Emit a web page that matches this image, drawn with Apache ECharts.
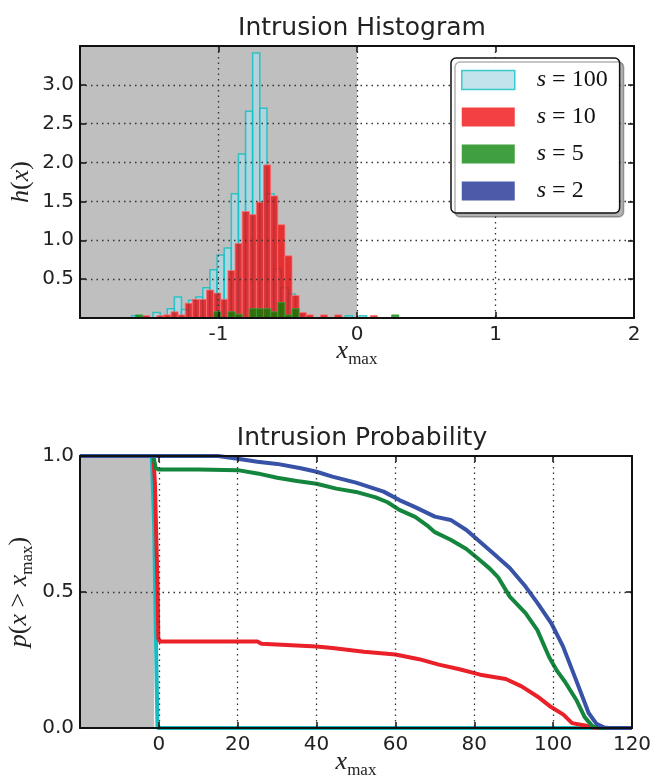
<!DOCTYPE html>
<html><head><meta charset="utf-8">
<script src="https://cdn.jsdelivr.net/npm/echarts@6/dist/echarts.min.js"></script>
<style>html,body{margin:0;padding:0;background:#fff}#c{width:657px;height:778px}</style>
</head><body><div id="c"></div>
<script>
// ---------------- data ----------------
const histBinWidth = 0.0514;
const s100BinStart = -1.627;
const s100Heights = [0.03,0,0,0.07,0,0.12,0.27,0.11,0.23,0.27,0.39,0.62,0.81,0.90,1.60,2.11,2.66,3.41,2.70,1.60,0.63,0.39,0.31,0.04,0,0,0,0,0,0,0.03,0,0.03];
const s10BinStart = -1.600;
const s10Heights = [0,0.03,0,0.03,0.04,0.08,0.04,0.19,0.24,0.24,0.36,0.32,0.24,0.61,0.96,1.37,1.33,1.49,1.97,1.57,1.20,0.80,0.29,0.07,0.04,0,0.04,0,0.04,0,0,0,0,0.03];
const s5BinStart = -1.600;
const s5Heights = [0.04,0,0,0,0,0,0,0,0,0,0,0.08,0,0.08,0.05,0,0.12,0.12,0.12,0.08,0.20,0.04,0.12,0,0,0,0,0,0,0,0,0,0,0,0,0,0.04];
const s2BinStart = -1.600;
const s2Heights = [];

const probS100 = [[-20,1],[-1.8,1],[-1.2,0.75],[-0.7,0.3],[-0.35,0],[120,0]];
const probS10 = [[-20,1],[-1.4,1],[-1.0,0.9],[-0.3,0.5],[-0.15,0.33],[0.3,0.318],[25,0.318],[26,0.31],[40,0.30],[44,0.294],[52,0.28],[60,0.27],[66,0.253],[71,0.233],[76,0.217],[81.5,0.196],[88,0.18],[92,0.153],[96,0.116],[99.5,0.077],[102.6,0.049],[104.8,0.018],[108,0.009],[110,0.002],[112,0],[120,0]];
const probS5 = [[-20,1],[-1.4,1],[-0.8,0.955],[0,0.95],[10,0.95],[20,0.948],[25,0.936],[30,0.92],[35,0.908],[40,0.898],[45,0.88],[50,0.868],[55,0.848],[58,0.83],[61,0.802],[65,0.776],[68,0.745],[70,0.72],[74,0.692],[78,0.658],[81,0.622],[84,0.585],[86,0.555],[89,0.483],[93,0.422],[96,0.36],[99,0.26],[101,0.21],[103,0.17],[106,0.1],[108,0.04],[110,0.006],[112,0],[120,0]];
const probS2 = [[-20,1],[15,1],[20,0.99],[25,0.979],[30,0.971],[36,0.955],[40,0.942],[44,0.924],[50,0.902],[57,0.869],[61,0.838],[65,0.812],[70,0.777],[74,0.765],[78,0.728],[81,0.69],[85,0.64],[89,0.588],[93,0.52],[96,0.46],[99.5,0.386],[102.5,0.3],[105.8,0.177],[109,0.055],[111,0.015],[113,0.002],[114,0],[120,0]];

const histShade = [[-2, 0]];
const probShade = [[-20, -1.2]];

const histXTicks = [-2,-1,0,1,2];
const histXTickLabels = ['', '-1', '0', '1', '2'];
const histYTicks = [0,0.5,1,1.5,2,2.5,3,3.5];
const histYTickLabels = ['', '0.5', '1.0', '1.5', '2.0', '2.5', '3.0', ''];
const probXTicks = [-20,0,20,40,60,80,100,120];
const probXTickLabels = ['', '0', '20', '40', '60', '80', '100', '120'];
const probYTicks = [0,0.5,1];
const probYTickLabels = ['0.0', '0.5', '1.0'];

const seriesNames = ['s = 100', 's = 10', 's = 5', 's = 2'];

// ---------------- styles ----------------
const histFill = ['rgba(173,216,230,0.75)','rgba(238,0,4,0.75)','rgba(0,128,0,0.75)','rgba(15,35,140,0.75)'];
const histStroke = ['rgba(0,191,191,0.75)','rgba(255,110,110,0.8)','rgba(60,160,60,0.8)','rgba(60,80,170,0.8)'];
const histLw = [1.5, 1, 1, 1];
const lineColors = ['#17bcc2','#ea2128','#13853c','#3752a6'];

const chart = echarts.init(document.getElementById('c'), null, {renderer:'canvas'});

function lookup(ticks, labels){
  return v => { const i = ticks.findIndex(t => Math.abs(t - v) < 1e-9); return i >= 0 ? labels[i] : ''; };
}

function histSeries(idx, start, heights){
  const data = heights.map((h,i)=>[start+i*histBinWidth, start+(i+1)*histBinWidth, h]).filter(d=>d[2]>0);
  return {
    type:'custom', name: seriesNames[idx], xAxisIndex:0, yAxisIndex:0, z:2,
    data, encode:{x:[0,1], y:2},
    renderItem(params, api){
      const a = api.coord([api.value(0), api.value(2)]);
      const b = api.coord([api.value(1), 0]);
      const cs = params.coordSys;
      const shape = echarts.graphic.clipRectByRect(
        {x:a[0], y:a[1], width:b[0]-a[0], height:b[1]-a[1]},
        {x:cs.x, y:cs.y, width:cs.width, height:cs.height});
      if (!shape) return null;
      return {type:'rect', shape, style:{fill:histFill[idx], stroke:histStroke[idx], lineWidth:histLw[idx]}};
    }
  };
}

function shadeSeries(xi, yi, ranges){
  return {
    type:'custom', xAxisIndex:xi, yAxisIndex:yi, z:1, silent:true,
    data: ranges, encode:{x:[0,1]},
    renderItem(params, api){
      const a = api.coord([api.value(0), 0]);
      const b = api.coord([api.value(1), 0]);
      const cs = params.coordSys;
      return {type:'rect', shape:{x:a[0], y:cs.y, width:b[0]-a[0], height:cs.height}, style:{fill:'#bfbfbf'}};
    }
  };
}

function lineSeries(idx, data){
  return {type:'line', name: seriesNames[idx], xAxisIndex:2, yAxisIndex:2, data, showSymbol:false, symbol:'none',
    z:2, lineStyle:{width:4, color: lineColors[idx]}, itemStyle:{color: lineColors[idx]}, animation:false};
}

const tickFont = {fontFamily:'DejaVu Sans', fontSize:20, color:'#222'};
const axisLineStyle = {show:true, onZero:false, lineStyle:{color:'#111', width:2}};
const tickStyle = {show:true, inside:true, length:6, lineStyle:{color:'#111', width:1.5}};
const gridLine = {show:true, showMinLine:false, showMaxLine:false, lineStyle:{color:'#333', width:1.3, type:[1.5,4]}};
const mathRich = {
  i:{fontFamily:'Liberation Serif', fontStyle:'italic', fontSize:26, lineHeight:26, color:'#222', padding:[0,0,4,0], verticalAlign:'bottom'},
  r:{fontFamily:'Liberation Serif', fontSize:26, lineHeight:26, color:'#222', padding:[0,0,4,0], verticalAlign:'bottom'},
  m:{fontFamily:'Liberation Serif', fontSize:17, lineHeight:17, color:'#222', verticalAlign:'bottom'}
};

function mainX(grid, min, max, interval, ticks, labels, gap){
  return {type:'value', gridIndex:grid, min, max, interval, position:'bottom', z:3,
    axisLine:axisLineStyle, axisTick:tickStyle, splitLine:gridLine,
    axisLabel:{...tickFont, margin:7, formatter: lookup(ticks, labels)},
    name:'{i|x}{m|max}', nameLocation:'middle', nameGap:gap, nameMoveOverlap:false, nameTextStyle:{rich:mathRich}};
}
function mirrorX(grid, min, max, interval){
  return {type:'value', gridIndex:grid, min, max, interval, position:'top', z:3,
    axisLine:axisLineStyle, axisTick:tickStyle, splitLine:{show:false}, axisLabel:{show:false}};
}
function mainY(grid, min, max, interval, ticks, labels, name, gap){
  return {type:'value', gridIndex:grid, min, max, interval, position:'left', z:3,
    axisLine:axisLineStyle, axisTick:tickStyle, splitLine:gridLine,
    axisLabel:{...tickFont, margin:6, formatter: lookup(ticks, labels)},
    name, nameLocation:'middle', nameGap:gap, nameRotate:90, nameMoveOverlap:false, nameTextStyle:{rich:mathRich}};
}
function mirrorY(grid, min, max, interval){
  return {type:'value', gridIndex:grid, min, max, interval, position:'right', z:3,
    axisLine:axisLineStyle, axisTick:tickStyle, splitLine:{show:false}, axisLabel:{show:false}};
}

const legendRich = {
  g:{width:17},
  i:{fontFamily:'Liberation Serif', fontStyle:'italic', fontSize:24, color:'#111'},
  r:{fontFamily:'Liberation Serif', fontSize:24, color:'#111'}
};

chart.setOption({
  animation:false,
  backgroundColor:'#fff',
  title:[
    {text:'Intrusion Histogram', left:357, textAlign:'center', top:11, textStyle:{fontFamily:'DejaVu Sans', fontSize:25, fontWeight:'normal', color:'#222'}},
    {text:'Intrusion Probability', left:357, textAlign:'center', top:421, textStyle:{fontFamily:'DejaVu Sans', fontSize:25, fontWeight:'normal', color:'#222'}}
  ],
  grid:[
    {left:80, top:46, width:554, height:272, outerBoundsMode:'none', containLabel:false},
    {left:80, top:456, width:552, height:272, outerBoundsMode:'none', containLabel:false}
  ],
  xAxis:[
    mainX(0, -2, 2, 1, histXTicks, histXTickLabels, 24),
    mirrorX(0, -2, 2, 1),
    mainX(1, -20, 120, 20, probXTicks, probXTickLabels, 25),
    mirrorX(1, -20, 120, 20)
  ],
  yAxis:[
    mainY(0, 0, 3.5, 0.5, histYTicks, histYTickLabels, '{i|h}{r|(}{i|x}{r|)}', 42),
    mirrorY(0, 0, 3.5, 0.5),
    mainY(1, 0, 1, 0.5, probYTicks, probYTickLabels, '{i|p}{r|(}{i|x}{r| > }{i|x}{m|max}{r|)}', 44),
    mirrorY(1, 0, 1, 0.5)
  ],
  legend:{
    orient:'vertical', left:451, top:58, icon:'rect', itemWidth:53, itemHeight:19, itemGap:13,
    padding:[10,12,10,10], backgroundColor:'#fff', borderColor:'#111', borderWidth:1.5, borderRadius:5,
    shadowColor:'rgba(0,0,0,0.3)', shadowBlur:0, shadowOffsetX:4, shadowOffsetY:4,
    selectedMode:false,
    formatter: n => '{g|}{i|s}{r| = ' + n.split('= ')[1] + '}',
    textStyle:{rich:legendRich},
    data: seriesNames.map((n,i)=>({name:n, itemStyle:{color:histFill[i], borderColor: i===0 ? histStroke[0] : 'transparent', borderWidth: i===0 ? 1.5 : 0}}))
  },
  series:[
    shadeSeries(0, 0, histShade),
    histSeries(0, s100BinStart, s100Heights),
    histSeries(1, s10BinStart, s10Heights),
    histSeries(2, s5BinStart, s5Heights),
    histSeries(3, s2BinStart, s2Heights),
    shadeSeries(2, 2, probShade),
    lineSeries(0, probS100),
    lineSeries(1, probS10),
    lineSeries(2, probS5),
    lineSeries(3, probS2)
  ]
});
</script></body></html>
